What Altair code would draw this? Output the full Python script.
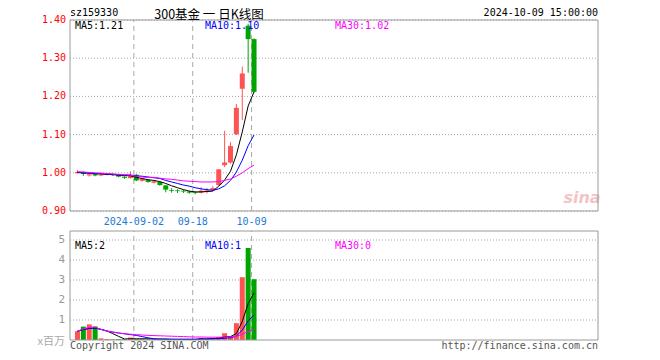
import altair as alt
import pandas as pd

# ---------------- data ----------------
DATES = ["08-19", "08-20", "08-21", "08-22", "08-23", "08-26", "08-27", "08-28", "08-29", "08-30",
         "09-02", "09-03", "09-04", "09-05", "09-06", "09-09", "09-10", "09-11", "09-12", "09-13",
         "09-18", "09-19", "09-20", "09-23", "09-24", "09-25", "09-26", "09-27", "09-30",
         "10-08", "10-09"]
OPEN = [0.999, 1.002, 0.993, 0.997, 0.993, 0.995, 0.997, 0.995, 0.990, 0.986,
        0.995, 0.979, 0.981, 0.974, 0.976, 0.967, 0.955, 0.954, 0.953, 0.951,
        0.949, 0.948, 0.950, 0.955, 0.968, 1.020, 1.027, 1.101, 1.220, 1.385, 1.350]
HIGH = [1.007, 1.004, 0.998, 0.998, 0.998, 0.998, 0.998, 0.996, 0.991, 1.004,
        0.997, 0.986, 0.983, 0.980, 0.977, 0.968, 0.960, 0.957, 0.956, 0.953,
        0.952, 0.962, 0.960, 0.965, 1.010, 1.110, 1.080, 1.180, 1.278, 1.390, 1.352]
LOW = [0.998, 0.992, 0.990, 0.991, 0.991, 0.993, 0.992, 0.988, 0.984, 0.985,
       0.978, 0.977, 0.974, 0.972, 0.966, 0.949, 0.948, 0.947, 0.947, 0.945,
       0.944, 0.946, 0.946, 0.953, 0.966, 1.015, 1.024, 1.099, 1.138, 1.262, 1.210]
CLOSE = [1.002, 0.997, 0.996, 0.993, 0.996, 0.997, 0.994, 0.990, 0.987, 0.991,
         0.980, 0.984, 0.976, 0.978, 0.968, 0.956, 0.953, 0.952, 0.951, 0.948,
         0.947, 0.953, 0.954, 0.960, 1.009, 1.027, 1.070, 1.170, 1.260, 1.350, 1.212]
VOLUME = [0.44, 0.67, 0.78, 0.68, 0.08, 0.05, 0.03, 0.04, 0.04, 0.12,
          0.05, 0.06, 0.03, 0.04, 0.03, 0.04, 0.03, 0.03, 0.03, 0.04,
          0.04, 0.10, 0.06, 0.10, 0.15, 0.34, 0.18, 0.84, 3.14, 4.60, 3.04]
MA5 = [1.001, 1.000, 0.999, 0.998, 0.997, 0.996, 0.995, 0.994, 0.993, 0.992,
       0.988, 0.985, 0.982, 0.980, 0.977, 0.972, 0.966, 0.961, 0.956, 0.952,
       0.950, 0.950, 0.951, 0.952, 0.965, 0.981, 1.004, 1.047, 1.107, 1.175, 1.212]
MA10 = [1.001, 1.000, 0.999, 0.998, 0.998, 0.997, 0.996, 0.995, 0.994, 0.994,
        0.992, 0.991, 0.989, 0.987, 0.985, 0.980, 0.976, 0.972, 0.968, 0.965,
        0.961, 0.958, 0.956, 0.954, 0.958, 0.966, 0.980, 1.002, 1.033, 1.071, 1.099]
MA30 = [1.003, 1.002, 1.001, 1.000, 0.999, 0.998, 0.997, 0.996, 0.995, 0.994,
        0.991, 0.989, 0.988, 0.988, 0.986, 0.984, 0.983, 0.981, 0.979, 0.978,
        0.977, 0.976, 0.976, 0.976, 0.977, 0.980, 0.984, 0.991, 1.000, 1.011, 1.020]
VMA5 = [0.44, 0.52, 0.58, 0.60, 0.53, 0.45, 0.32, 0.18, 0.05, 0.06,
        0.06, 0.06, 0.06, 0.05, 0.04, 0.04, 0.03, 0.03, 0.03, 0.03,
        0.03, 0.05, 0.05, 0.07, 0.09, 0.15, 0.17, 0.32, 0.93, 1.82, 2.36]
VMA10 = [0.44, 0.52, 0.58, 0.60, 0.53, 0.45, 0.40, 0.35, 0.31, 0.27,
         0.23, 0.17, 0.11, 0.06, 0.05, 0.05, 0.04, 0.04, 0.04, 0.04,
         0.04, 0.05, 0.05, 0.06, 0.06, 0.09, 0.11, 0.19, 0.50, 0.96, 1.26]
VMA30 = [0.44, 0.55, 0.63, 0.64, 0.53, 0.45, 0.39, 0.35, 0.31, 0.29,
         0.27, 0.25, 0.23, 0.22, 0.21, 0.20, 0.19, 0.18, 0.17, 0.16,
         0.15, 0.15, 0.14, 0.14, 0.14, 0.15, 0.15, 0.18, 0.28, 0.43, 0.52]

PRICE_TICKS = [0.90, 1.00, 1.10, 1.20, 1.30, 1.40]
VOL_TICKS = [1, 2, 3, 4, 5]
VOL_MAX = 5.45
DIVIDER_IDX = [10, 20, 30]
DIVIDER_LABELS = ["2024-09-02", "09-18", "10-09"]

CODE = "sz159330"
TITLE = "300基金 一 日K线图"
STAMP = "2024-10-09 15:00:00"
PRICE_MA_TEXT = ["MA5:1.21", "MA10:1.10", "MA30:1.02"]
VOL_MA_TEXT = ["MA5:2", "MA10:1", "MA30:0"]
UNIT = "x百万"
COPY = "Copyright 2024 SINA.COM"
URL = "http://finance.sina.com.cn"
MARK = "sina"

# ---------------- styling / layout ----------------
RED = "#ff5252"
GREEN = "#00a400"
MA_COLORS = ["#000000", "#0000ff", "#ff00ff"]
FRAME = "#9a9a9a"
GRID = "#a8a8a8"
MONO = "DejaVu Sans Mono"
CJK = "Noto Sans CJK SC"
W = 528             # plot width (x 70..598)
H = 320             # both panels (y 20..340)
P_BOT = 191         # price panel bottom
V_TOP = 211         # volume panel top
HALF = 5 / 12

df = pd.DataFrame({
    "idx": list(range(len(DATES))), "date": DATES,
    "open": OPEN, "high": HIGH, "low": LOW, "close": CLOSE, "vol": VOLUME,
    "ma5": MA5, "ma10": MA10, "ma30": MA30,
    "vma5": VMA5, "vma10": VMA10, "vma30": VMA30,
})
div_df = pd.DataFrame({"idx": DIVIDER_IDX, "label": DIVIDER_LABELS})
ptick_df = pd.DataFrame({"v": PRICE_TICKS})
vtick_df = pd.DataFrame({"v": VOL_TICKS})

xs = alt.Scale(domain=[-HALF, 88 - HALF], nice=False, zero=False)
ps = alt.Scale(domain=[PRICE_TICKS[0], PRICE_TICKS[-1]], range=[P_BOT, 0], nice=False, zero=False)
vs = alt.Scale(domain=[0, VOL_MAX], range=[H, V_TOP], nice=False, zero=False)

updown = alt.condition("datum.close >= datum.open", alt.value(RED), alt.value(GREEN))


def X(field):
    return alt.X(field, scale=xs, axis=None)


def PY(field):
    return alt.Y(field, scale=ps, axis=None)


def VY(field):
    return alt.Y(field, scale=vs, axis=None)


def txt(s, x, y, color="#000000", size=10, align="left", font=MONO, **kw):
    return alt.Chart(alt.Data(values=[{"t": s}])).mark_text(
        align=align, baseline="middle", font=font, fontSize=size, color=color, **kw
    ).encode(x=alt.value(x), y=alt.value(y), text="t:N")


layers = []

# grid lines
layers.append(alt.Chart(ptick_df).mark_rule(color=GRID, strokeDash=[1, 2]).encode(
    x=alt.value(0), x2=alt.value(W), y=PY("v:Q")))
layers.append(alt.Chart(vtick_df).mark_rule(color=GRID, strokeDash=[1, 2]).encode(
    x=alt.value(0), x2=alt.value(W), y=VY("v:Q")))
div = alt.Chart(div_df).transform_calculate(pos=f"datum.idx - {HALF}")
layers.append(div.mark_rule(color=GRID, strokeDash=[5, 4]).encode(
    x=X("pos:Q"), y=PY("lo:Q"), y2="hi:Q").transform_calculate(
    lo=str(PRICE_TICKS[0]), hi=str(PRICE_TICKS[-1])))
layers.append(div.mark_rule(color=GRID, strokeDash=[5, 4]).encode(
    x=X("pos:Q"), y=VY("lo:Q"), y2="hi:Q").transform_calculate(
    lo="0", hi=str(VOL_MAX)))

# watermark
layers.append(txt(MARK, 512, 178, color="#f2c4c4", size=16, align="center",
                  font="DejaVu Sans", fontStyle="italic", fontWeight="bold"))

# candles
layers.append(alt.Chart(df).mark_rule(strokeWidth=1).encode(
    x=X("idx:Q"), y=PY("low:Q"), y2="high:Q", color=updown))
layers.append(alt.Chart(df).mark_bar(size=5).encode(
    x=X("idx:Q"), y=PY("open:Q"), y2="close:Q", color=updown))
for field, col in zip(["ma5", "ma10", "ma30"], MA_COLORS):
    layers.append(alt.Chart(df).mark_line(strokeWidth=1, color=col).encode(
        x=X("idx:Q"), y=PY(f"{field}:Q")))

# volume
layers.append(alt.Chart(df).mark_bar(size=5).encode(
    x=X("idx:Q"), y=VY("vol:Q"), y2=alt.Y2(datum=0), color=updown))
for field, col in zip(["vma5", "vma10", "vma30"], MA_COLORS):
    layers.append(alt.Chart(df).mark_line(strokeWidth=1, color=col).encode(
        x=X("idx:Q"), y=VY(f"{field}:Q")))

# frames
for lo, hi, yscale in [(PRICE_TICKS[0], PRICE_TICKS[-1], PY), (0, VOL_MAX, VY)]:
    layers.append(alt.Chart(alt.Data(values=[{"lo": lo, "hi": hi}])).mark_rect(
        fill=None, stroke=FRAME, strokeWidth=1).encode(
        x=alt.value(0), x2=alt.value(W), y=yscale("lo:Q"), y2="hi:Q"))

# tick labels
layers.append(alt.Chart(ptick_df).mark_text(
    align="right", baseline="middle", font=MONO, fontSize=10, color="#ff0000").encode(
    x=alt.value(-4), y=PY("v:Q"), text=alt.Text("v:Q", format=".2f")))
layers.append(alt.Chart(vtick_df).mark_text(
    align="right", baseline="middle", font=MONO, fontSize=11, color="#999999").encode(
    x=alt.value(-5), y=VY("v:Q"), text=alt.Text("v:Q", format="d")))
layers.append(div.mark_text(baseline="middle", font=MONO, fontSize=10, color="#1a7ad4").encode(
    x=X("pos:Q"), y=alt.value(P_BOT + 11), text="label:N"))

# header / labels
layers += [
    txt(CODE, 0, -7),
    txt(TITLE, 139, -5, size=12.5, align="center", font=CJK),
    txt(STAMP, W, -7, align="right"),
    txt(PRICE_MA_TEXT[0], 5, 6, MA_COLORS[0]),
    txt(PRICE_MA_TEXT[1], 135, 6, MA_COLORS[1]),
    txt(PRICE_MA_TEXT[2], 265, 6, MA_COLORS[2]),
    txt(VOL_MA_TEXT[0], 5, V_TOP + 15, MA_COLORS[0]),
    txt(VOL_MA_TEXT[1], 135, V_TOP + 15, MA_COLORS[1]),
    txt(VOL_MA_TEXT[2], 265, V_TOP + 15, MA_COLORS[2]),
    txt(UNIT, -5, H + 2, color="#aaaaaa", size=11, align="right", font=CJK),
    txt(COPY, 0, H + 6, color="#555555"),
    txt(URL, W, H + 6, color="#555555", align="right"),
]

chart = alt.layer(*layers).resolve_scale(y="independent").properties(
    width=W, height=H,
    padding={"left": 62, "top": 12, "right": 54, "bottom": 12},
    autosize=alt.AutoSizeParams(type="none"),
    background="#ffffff",
).configure_view(stroke=None)

chart.save("out.html", embed_options={"renderer": "svg", "actions": False})
